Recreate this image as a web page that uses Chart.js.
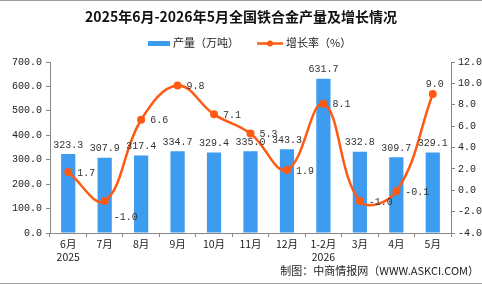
<!DOCTYPE html>
<html>
<head>
<meta charset="utf-8">
<script src="https://cdn.jsdelivr.net/npm/chart.js@4.4.1/dist/chart.umd.min.js"></script>
<style>
  html, body { margin: 0; padding: 0; background: #fff; }
  #wrap { position: relative; width: 482px; height: 284px; box-sizing: border-box;
          border-top: 1px solid #a0a0a0; border-bottom: 1px solid #a0a0a0; }
  canvas { display: block; }
</style>
</head>
<body>
<div id="wrap"><canvas id="chart" width="482" height="282"></canvas></div>
<script>
// categories and series
const months = [['6月', '2025'], '7月', '8月', '9月', '10月', '11月', '12月', ['1-2月', '2026'], '3月', '4月', '5月'];
const output = [323.3, 307.9, 317.4, 334.7, 329.4, 335.0, 343.3, 631.7, 332.8, 309.7, 329.1];
const growth = [1.7, -1.0, 6.6, 9.8, 7.1, 5.3, 1.9, 8.1, -1.0, -0.1, 9.0];

const titleText = '2025年6月-2026年5月全国铁合金产量及增长情况';
const sourceText = '制图：中商情报网（WWW.ASKCI.COM）';

const BLUE = '#3d9bf0';
const ORANGE = '#ff5a14';
const CJK = '"Noto Sans CJK SC", "Noto Sans", sans-serif';
const MONO = '"Liberation Mono", "DejaVu Sans Mono", monospace';

// title, legend, value labels and source drawn by hand
const decorations = {
    id: 'decorations',
    afterDatasetsDraw(chart) {
        const c = chart.ctx;
        c.save();

        // title
        c.fillStyle = '#111';
        c.font = 'bold 14px ' + CJK;
        c.textAlign = 'center';
        c.textBaseline = 'middle';
        c.fillText(titleText, 241, 16);

        // legend
        c.font = '11px ' + CJK;
        c.textAlign = 'left';
        c.fillStyle = BLUE;
        c.fillRect(148, 40, 22, 5);
        c.fillStyle = '#222';
        c.fillText('产量（万吨）', 173, 42);
        c.strokeStyle = ORANGE;
        c.lineWidth = 2.5;
        c.beginPath();
        c.moveTo(257, 42.5);
        c.lineTo(283, 42.5);
        c.stroke();
        c.fillStyle = ORANGE;
        c.beginPath();
        c.arc(270, 42.5, 3, 0, Math.PI * 2);
        c.fill();
        c.fillStyle = '#222';
        c.fillText('增长率（%）', 286, 42);

        // bar labels
        c.font = '10px ' + MONO;
        c.fillStyle = '#333';
        c.textAlign = 'center';
        c.textBaseline = 'bottom';
        chart.getDatasetMeta(1).data.forEach((bar, i) => {
            c.fillText(output[i].toFixed(1), bar.x, bar.y - 4);
        });

        // growth labels
        c.textBaseline = 'middle';
        const pts = chart.getDatasetMeta(0).data;
        pts.forEach((p, i) => {
            const txt = growth[i].toFixed(1);
            if (i === pts.length - 1) {
                c.textAlign = 'center';
                c.fillText(txt, p.x + 2, p.y - 10);
            } else {
                c.textAlign = 'left';
                const dy = (i === 1) ? 16 : 1;
                c.fillText(txt, p.x + 9, p.y + dy);
            }
        });

        // source
        c.font = '11px ' + CJK;
        c.fillStyle = '#222';
        c.textAlign = 'right';
        c.textBaseline = 'middle';
        c.fillText(sourceText, 479, 270);

        c.restore();
    }
};

const ctx = document.getElementById('chart').getContext('2d');

const axisGrid = { display: true, drawOnChartArea: false, drawTicks: true, tickLength: 4, color: '#888' };

new Chart(ctx, {
    data: {
        labels: months,
        datasets: [
            {
                type: 'line',
                label: '增长率（%）',
                data: growth,
                yAxisID: 'y1',
                borderColor: ORANGE,
                backgroundColor: ORANGE,
                borderWidth: 2.5,
                pointRadius: 4,
                pointBackgroundColor: ORANGE,
                pointBorderWidth: 0,
                tension: 0.4,
                order: 0
            },
            {
                type: 'bar',
                label: '产量（万吨）',
                data: output,
                yAxisID: 'y',
                backgroundColor: BLUE,
                barPercentage: 0.39,
                categoryPercentage: 1,
                order: 1
            }
        ]
    },
    options: {
        responsive: false,
        animation: false,
        layout: { padding: { left: 8, right: 0, top: 61, bottom: 20 } },
        plugins: {
            legend: { display: false },
            title: { display: false },
            tooltip: { enabled: false }
        },
        scales: {
            x: {
                grid: Object.assign({}, axisGrid, { offset: true }),
                border: { color: '#888' },
                ticks: { color: '#222', font: { family: CJK, size: 10.5 }, padding: 1, maxRotation: 0, autoSkip: false },
                afterFit(scale) { scale.height = 30; }
            },
            y: {
                position: 'left',
                min: 0,
                max: 700,
                grid: axisGrid,
                border: { color: '#888' },
                ticks: {
                    stepSize: 100,
                    color: '#222',
                    font: { family: MONO, size: 10 },
                    padding: 4,
                    callback: v => v.toFixed(1)
                },
                afterFit(scale) { scale.width = 42; }
            },
            y1: {
                position: 'right',
                min: -4,
                max: 12,
                grid: axisGrid,
                border: { color: '#888' },
                ticks: {
                    stepSize: 2,
                    color: '#222',
                    font: { family: MONO, size: 10 },
                    padding: 3,
                    callback: v => v.toFixed(1)
                },
                afterFit(scale) { scale.width = 31; }
            }
        }
    },
    plugins: [decorations]
});
</script>
</body>
</html>
